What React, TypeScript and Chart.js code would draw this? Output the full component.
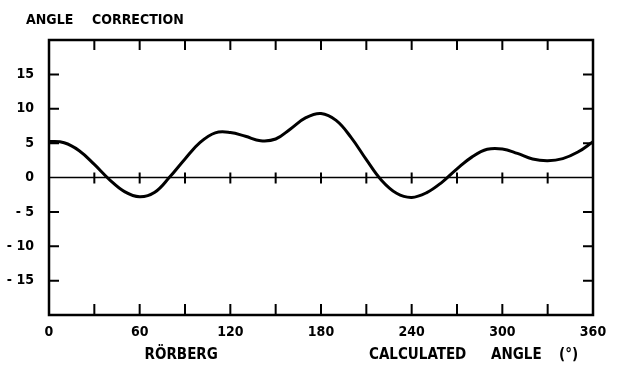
import React, { useEffect, useRef } from "react";
import { Chart, registerables } from "chart.js";

Chart.register(...registerables);

const angles = [0, 10, 20, 30, 40, 50, 60, 70, 80, 90, 100, 110, 120, 130, 140, 150, 160, 170, 180, 190, 200, 210, 220, 230, 240, 250, 260, 270, 280, 290, 300, 310, 320, 330, 340, 350, 360];
const corrections = [5.25, 5.05, 3.9, 1.9, -0.3, -2.05, -2.8, -2.15, 0.1, 2.7, 5.1, 6.5, 6.55, 6.0, 5.35, 5.6, 7.1, 8.7, 9.3, 8.3, 5.8, 2.6, -0.4, -2.3, -2.9, -2.2, -0.7, 1.25, 3.0, 4.1, 4.15, 3.5, 2.7, 2.45, 2.75, 3.7, 5.2];
const xLabelValues = [0, 60, 120, 180, 240, 300, 360];
const xTickValues = [30, 60, 90, 120, 150, 180, 210, 240, 270, 300, 330];
const yLabelValues = [-15, -10, -5, 0, 5, 10, 15];
const yTickValues = [-15, -10, -5, 5, 10, 15];
const titleWords = ["ANGLE", "CORRECTION"];
const xTitleLeft = "RÖRBERG";
const xTitleWords = ["CALCULATED", "ANGLE", "(°)"];

const FONT = "bold 14px 'DejaVu Sans Condensed', 'DejaVu Sans', sans-serif";
const FONT_L = "bold 15px 'DejaVu Sans Condensed', 'DejaVu Sans', sans-serif";

const framePlugin = {
  id: "frame",
  afterDatasetsDraw(chart: any) {
    const ctx = chart.ctx;
    const xs = chart.scales.x;
    const ys = chart.scales.y;
    const { left, right, top, bottom } = chart.chartArea;
    ctx.save();
    ctx.strokeStyle = "#000";
    const y0 = ys.getPixelForValue(0);
    ctx.lineWidth = 1.5;
    ctx.beginPath();
    ctx.moveTo(left, y0);
    ctx.lineTo(right, y0);
    ctx.stroke();
    ctx.lineWidth = 2;
    xTickValues.forEach((v) => {
      const px = xs.getPixelForValue(v);
      ctx.beginPath();
      ctx.moveTo(px, y0 - 5);
      ctx.lineTo(px, y0 + 6);
      ctx.moveTo(px, top);
      ctx.lineTo(px, top + 10);
      ctx.moveTo(px, bottom);
      ctx.lineTo(px, bottom - 11);
      ctx.stroke();
    });
    yTickValues.forEach((v) => {
      const py = ys.getPixelForValue(v);
      ctx.beginPath();
      ctx.moveTo(left, py);
      ctx.lineTo(left + 10, py);
      ctx.moveTo(right, py);
      ctx.lineTo(right - 10, py);
      ctx.stroke();
    });
    ctx.lineWidth = 2.5;
    ctx.strokeRect(left, top, right - left, bottom - top);
    ctx.fillStyle = "#000";
    ctx.font = FONT;
    ctx.textBaseline = "middle";
    ctx.textAlign = "right";
    yLabelValues.forEach((v) => {
      const py = ys.getPixelForValue(v);
      const label = v < 0 ? "- " + Math.abs(v) : String(v);
      ctx.fillText(label, left - 15, py);
    });
    ctx.textAlign = "center";
    xLabelValues.forEach((v) => {
      const px = xs.getPixelForValue(v);
      ctx.fillText(String(v), px, bottom + 17);
    });
    ctx.textAlign = "left";
    ctx.fillText(titleWords[0], 26, 20);
    ctx.fillText(titleWords[1], 92, 20);
    ctx.font = FONT_L;
    ctx.textAlign = "center";
    ctx.fillText(xTitleLeft, xs.getPixelForValue(87.5), bottom + 40);
    ctx.textAlign = "left";
    ctx.fillText(xTitleWords[0], 369, bottom + 40);
    ctx.fillText(xTitleWords[1], 491, bottom + 40);
    ctx.fillText(xTitleWords[2], 559, bottom + 40);
    ctx.restore();
  },
};

export default function App() {
  const ref = useRef<HTMLCanvasElement>(null);
  useEffect(() => {
    document.body.style.margin = "0";
    const canvas = ref.current!;
    const chart = new Chart(canvas, {
      type: "line",
      data: {
        datasets: [
          {
            data: angles.map((a, i) => ({ x: a, y: corrections[i] })),
            borderColor: "#000",
            borderWidth: 3,
            pointRadius: 0,
            tension: 0.4,
            fill: false,
          },
        ],
      },
      options: {
        animation: false,
        responsive: false,
        layout: { padding: { top: 40, right: 24, left: 0, bottom: 0 } },
        plugins: { legend: { display: false }, tooltip: { enabled: false }, title: { display: false } },
        scales: {
          x: {
            type: "linear",
            min: 0,
            max: 360,
            grid: { display: false, drawTicks: false },
            border: { display: false },
            ticks: { display: false },
            afterFit: (s: any) => { s.height = 51; },
          },
          y: {
            type: "linear",
            min: -20,
            max: 20,
            grid: { display: false, drawTicks: false },
            border: { display: false },
            ticks: { display: false, stepSize: 5 },
            afterFit: (s: any) => { s.width = 49; },
          },
        },
      },
      plugins: [framePlugin],
    });
    return () => chart.destroy();
  }, []);
  return <canvas ref={ref} width={617} height={366} style={{ display: "block" }} />;
}
